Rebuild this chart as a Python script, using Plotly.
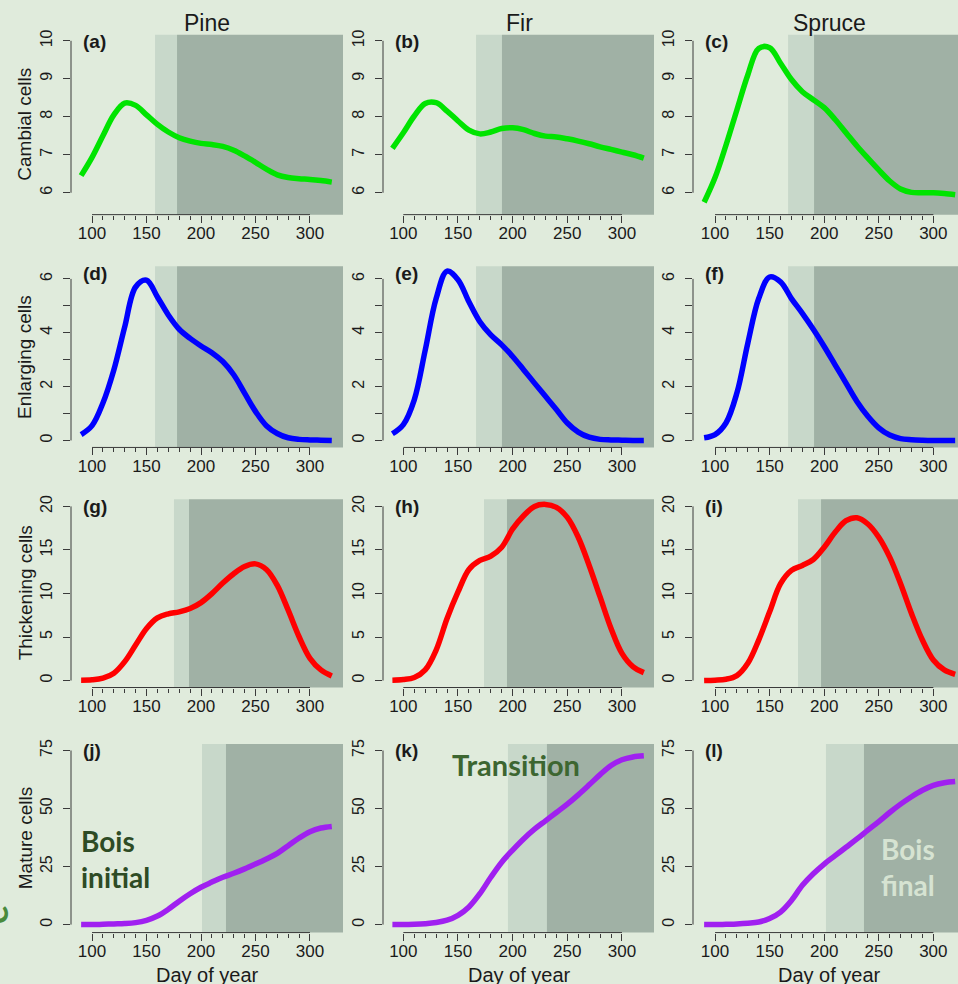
import plotly.graph_objects as go

W, H = 958, 984

# ---------------- data ----------------
days = [90, 100, 110, 120, 130, 140, 150, 160, 170, 180, 190, 200,
        210, 220, 230, 240, 250, 260, 270, 280, 290, 300, 310, 320]

species = ["Pine", "Fir", "Spruce"]
row_titles = ["Cambial cells", "Enlarging cells", "Thickening cells", "Mature cells"]
panel_letters = ["(a)", "(b)", "(c)", "(d)", "(e)", "(f)", "(g)", "(h)", "(i)", "(j)", "(k)", "(l)"]

cambial_pine = [6.45, 6.93, 7.50, 8.05, 8.36, 8.30, 8.05, 7.80, 7.60, 7.45, 7.36, 7.30,
                7.27, 7.22, 7.12, 6.97, 6.80, 6.62, 6.47, 6.40, 6.37, 6.35, 6.32, 6.28]
cambial_fir = [7.17, 7.58, 8.02, 8.35, 8.37, 8.15, 7.89, 7.65, 7.55, 7.60, 7.69, 7.71,
               7.66, 7.56, 7.49, 7.47, 7.42, 7.36, 7.29, 7.21, 7.14, 7.07, 7.00, 6.91]
cambial_spruce = [5.75, 6.40, 7.25, 8.18, 9.10, 9.80, 9.82, 9.41, 8.98, 8.66, 8.45, 8.24,
                  7.93, 7.58, 7.23, 6.91, 6.60, 6.31, 6.10, 6.01, 6.00, 6.00, 5.98, 5.95]

enlarging_pine = [0.22, 0.55, 1.39, 2.62, 4.22, 5.70, 5.95, 5.33, 4.66, 4.13, 3.79, 3.51,
                  3.26, 2.93, 2.44, 1.76, 1.08, 0.55, 0.26, 0.10, 0.04, 0.02, 0.01, 0.00]
enlarging_fir = [0.25, 0.59, 1.51, 3.35, 5.27, 6.29, 5.97, 5.15, 4.41, 3.92, 3.55, 3.12,
                 2.63, 2.13, 1.64, 1.15, 0.65, 0.31, 0.12, 0.04, 0.02, 0.01, 0.00, 0.00]
enlarging_spruce = [0.10, 0.22, 0.65, 1.76, 3.61, 5.27, 6.07, 5.89, 5.27, 4.72, 4.13, 3.49,
                    2.81, 2.13, 1.45, 0.90, 0.47, 0.20, 0.07, 0.03, 0.01, 0.00, 0.00, 0.00]

thickening_pine = [0.04, 0.08, 0.27, 0.84, 2.17, 4.08, 5.98, 7.20, 7.66, 7.89, 8.27, 8.95,
                   9.98, 11.2, 12.27, 13.1, 13.4, 12.76, 10.93, 8.08, 5.03, 2.55, 1.22, 0.53]
thickening_fir = [0.04, 0.11, 0.34, 1.22, 3.50, 7.12, 10.17, 12.76, 13.79, 14.29, 15.31, 17.41,
                  18.93, 20.0, 20.23, 19.89, 18.74, 16.46, 13.22, 9.60, 5.98, 3.12, 1.60, 0.91]
thickening_spruce = [0.00, 0.04, 0.15, 0.57, 1.98, 4.65, 7.89, 11.12, 12.65, 13.22, 13.90, 15.31,
                     17.03, 18.36, 18.70, 17.98, 16.46, 14.17, 11.12, 7.70, 4.65, 2.36, 1.22, 0.72]

mature_pine = [0.0, 0.0, 0.14, 0.30, 0.45, 0.86, 1.86, 3.7, 6.6, 10.1, 13.3, 16.1,
               18.3, 20.4, 22.1, 24.0, 26.1, 28.3, 30.7, 34.0, 37.3, 40.0, 41.6, 42.3]
mature_fir = [0.0, 0.0, 0.14, 0.40, 0.90, 1.9, 4.0, 7.6, 13.3, 20.4, 26.9, 32.1,
              36.9, 41.1, 44.7, 48.3, 51.9, 55.9, 60.2, 64.6, 68.5, 71.0, 72.2, 72.7]
mature_spruce = [0.0, 0.0, 0.14, 0.30, 0.60, 1.1, 2.6, 5.4, 10.4, 16.9, 21.9, 26.1,
                 29.7, 33.3, 36.9, 40.7, 44.4, 48.3, 51.9, 55.1, 57.9, 60.0, 61.1, 61.6]

series = [
    [cambial_pine, cambial_fir, cambial_spruce],
    [enlarging_pine, enlarging_fir, enlarging_spruce],
    [thickening_pine, thickening_fir, thickening_spruce],
    [mature_pine, mature_fir, mature_spruce],
]

# transition (light) and latewood (dark) phase starts, day of year
light_start = [[157.8, 166.5, 166.9], [157.8, 166.5, 166.9],
               [175.2, 173.8, 176.0], [200.9, 195.7, 201.6]]
dark_start = [[178.0, 190.2, 190.7], [178.0, 190.2, 190.7],
              [189.0, 194.8, 197.1], [222.9, 231.3, 236.4]]

x_major = [100, 150, 200, 250, 300]
x_minor = list(range(100, 301, 10))
y_ticks = [[6, 7, 8, 9, 10], [0, 1, 2, 3, 4, 5, 6], [0, 5, 10, 15, 20], [0, 25, 50, 75]]
y_ticktext = [["6", "7", "8", "9", "10"], ["0", "", "2", "", "4", "", "6"],
              ["0", "5", "10", "15", "20"], ["0", "25", "50", "75"]]

# ---------------- style / layout ----------------
row_colors = ["#00E400", "#0000FF", "#FF0000", "#A020F0"]
BG = "#E0EBDC"
LIGHT = "#C8D8CA"
DARK = "#A0B1A5"
AXC = "#3a3a3a"
FONT = "Liberation Sans, Arial, sans-serif"

col_px = [(71, 343), (383, 654), (693, 958)]
row_px = [(30, 210.7), (262.7, 444.7), (496.7, 686), (742.7, 932.3)]
x_ranges = [[80.7, 330.3], [81.4, 329.3], [79.8, 322.6]]
y_ranges = [[5.424, 10.157], [-0.259, 6.466], [-0.8, 20.83], [-3.43, 77.83]]

fig = go.Figure()
layout = dict(
    width=W, height=H, margin=dict(l=0, r=0, t=0, b=0),
    paper_bgcolor=BG, plot_bgcolor=BG, showlegend=False,
    font=dict(family=FONT, color="#1a1a1a"),
)
shapes = []
annotations = []

for r in range(4):
    for c in range(3):
        n = r * 3 + 1 + c
        xn = "x" if n == 1 else f"x{n}"
        yn = "y" if n == 1 else f"y{n}"
        xkey = "xaxis" if n == 1 else f"xaxis{n}"
        ykey = "yaxis" if n == 1 else f"yaxis{n}"
        x0p, x1p = col_px[c]
        y0p, y1p = row_px[r]
        layout[xkey] = dict(
            domain=[x0p / W, x1p / W], range=x_ranges[c], anchor=yn,
            showgrid=False, zeroline=False, showline=False,
            tickmode="array", tickvals=x_major, ticks="outside", ticklen=7,
            tickwidth=1, tickcolor=AXC, ticklabelstandoff=-4,
            tickfont=dict(size=17, family=FONT, color="#1a1a1a"),
            minor=dict(tickmode="array", tickvals=x_minor, ticks="outside", ticklen=4,
                       tickwidth=1, tickcolor=AXC, showgrid=False),
            fixedrange=True,
        )
        layout[ykey] = dict(
            domain=[1 - y1p / H, 1 - y0p / H], range=y_ranges[r], anchor=xn,
            showgrid=False, zeroline=False, showline=False,
            tickmode="array", tickvals=y_ticks[r], ticktext=y_ticktext[r],
            ticks="outside", ticklen=7, tickwidth=1, tickcolor=AXC,
            tickangle=-90, ticklabelstandoff=5,
            tickfont=dict(size=16, family=FONT, color="#1a1a1a"),
            fixedrange=True,
        )
        # phase shading
        shapes.append(dict(type="rect", xref=xn, yref=f"{yn} domain",
                           x0=light_start[r][c], x1=dark_start[r][c], y0=0, y1=1,
                           fillcolor=LIGHT, line=dict(width=0), layer="below"))
        shapes.append(dict(type="rect", xref=xn, yref=f"{yn} domain",
                           x0=dark_start[r][c], x1=x_ranges[c][1], y0=0, y1=1,
                           fillcolor=DARK, line=dict(width=0), layer="below"))
        # R-style axis lines spanning only the tick range
        shapes.append(dict(type="line", xref=xn, yref=f"{yn} domain",
                           x0=x_major[0], x1=x_major[-1], y0=0, y1=0,
                           line=dict(color=AXC, width=1)))
        shapes.append(dict(type="line", xref=f"{xn} domain", yref=yn,
                           x0=0, x1=0, y0=y_ticks[r][0], y1=y_ticks[r][-1],
                           line=dict(color=AXC, width=1)))
        fig.add_trace(go.Scatter(
            x=days, y=series[r][c], xaxis=xn, yaxis=yn, mode="lines",
            line=dict(color=row_colors[r], width=5.5, shape="spline", smoothing=1.0),
            hoverinfo="skip",
        ))
        annotations.append(dict(
            text=panel_letters[n - 1], xref="paper", yref="paper",
            x=(x0p + 10) / W, y=1 - (y0p + 7) / H, xanchor="left", yanchor="middle",
            showarrow=False, font=dict(size=19, family=FONT, color="#1a1a1a", weight="bold"),
        ))

# column titles
for c in range(3):
    cx = (col_px[c][0] + col_px[c][0] + 272) / 2
    annotations.append(dict(text=species[c], xref="paper", yref="paper",
                            x=cx / W, y=1 - 18 / H, xanchor="center", yanchor="middle",
                            showarrow=False, font=dict(size=23, family=FONT, color="#1a1a1a")))
    annotations.append(dict(text="Day of year", xref="paper", yref="paper",
                            x=cx / W, y=1 - 975 / H, xanchor="center", yanchor="middle",
                            showarrow=False, font=dict(size=20, family=FONT, color="#1a1a1a")))

# row titles
for r in range(4):
    cy = (row_px[r][0] + row_px[r][1]) / 2
    annotations.append(dict(text=row_titles[r], xref="paper", yref="paper",
                            x=25 / W, y=1 - cy / H, xanchor="center", yanchor="middle",
                            textangle=-90, showarrow=False,
                            font=dict(size=19, family=FONT, color="#1a1a1a")))

# overlaid labels
LFONT = "Lato, Open Sans, sans-serif"
annotations.append(dict(text="Bois<br>initial", xref="paper", yref="paper",
                        x=79 / W, y=1 - 858 / H, xanchor="left", yanchor="middle", align="left",
                        showarrow=False, font=dict(size=28, family=LFONT, color="#2E4B25", weight="bold")))
annotations.append(dict(text="Transition", xref="paper", yref="paper",
                        x=516 / W, y=1 - 763 / H, xanchor="center", yanchor="middle",
                        showarrow=False, font=dict(size=29, family=LFONT, color="#3D6631", weight="bold")))
annotations.append(dict(text="Bois<br>final", xref="paper", yref="paper",
                        x=879 / W, y=1 - 866 / H, xanchor="left", yanchor="middle", align="left",
                        showarrow=False, font=dict(size=28, family=LFONT, color="#D6E3D2", weight="bold")))
annotations.append(dict(text="e", xref="paper", yref="paper",
                        x=-6 / W, y=1 - 915 / H, xanchor="center", yanchor="middle",
                        textangle=-90, showarrow=False,
                        font=dict(size=36, family=LFONT, color="#4A8A3D", weight="bold")))

layout["shapes"] = shapes
layout["annotations"] = annotations
fig.update_layout(**layout)
fig.write_html("out.html")
